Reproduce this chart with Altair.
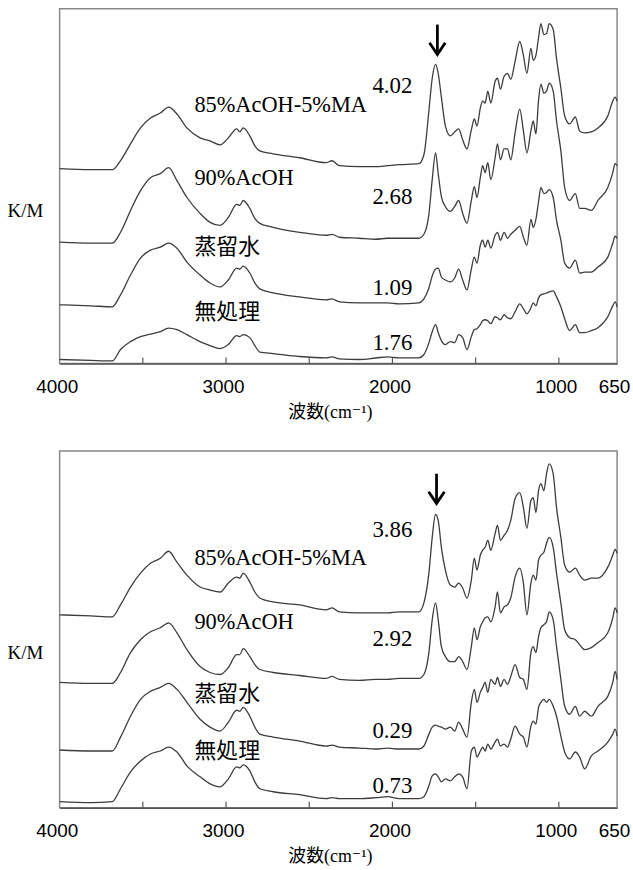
import altair as alt
import pandas as pd

# wavenumber grid (cm-1), shared by all spectra
WN = [4000, 3813, 3684, 3634, 3574, 3514, 3454, 3395, 3345, 3295, 3235, 3156, 3096, 3036,
      2986, 2936, 2917, 2897, 2857, 2827, 2797, 2717, 2558, 2399, 2363, 2319, 2200,
      2100, 2030,
      1960, 1841, 1811, 1781, 1761, 1741, 1725, 1706, 1682, 1652, 1626, 1602, 1578, 1552,
      1526, 1508, 1492, 1472, 1458, 1443, 1427, 1409, 1383, 1369, 1351, 1329, 1309, 1289,
      1263, 1235, 1213, 1192, 1168, 1154, 1138, 1122, 1108, 1090, 1074, 1058, 1034, 1014,
      988, 965, 935, 901, 875, 845, 805, 765, 706, 676, 662, 650]

SAMPLES = ["無処理", "蒸留水", "90%AcOH", "85%AcOH-5%MA"]
CJK = [True, True, False, False]

# ---- upper panel (offset K/M, arbitrary units) ----
TOP_S1 = [0.4, 0.3, 0.25, 1.4, 2.2, 2.7, 2.95, 3.2, 3.55, 3.4, 2.9, 2.2, 1.8, 1.5, 1.9, 2.8, 2.7, 2.9,
          2.6, 1.8, 1.15, 1.0, 0.7, 0.57, 0.67, 0.47, 0.4, 0.55, 0.67,
          0.57, 0.57, 0.9, 2.07, 3.2, 3.9, 3.1, 2.3, 1.9, 2.2, 2.1, 2.9, 2.6, 1.4, 2.7, 3.4, 3.5, 3.9,
          4.3, 4.4, 4.3, 4.0, 4.7, 4.6, 4.4, 4.9, 4.6, 4.5, 5.2, 6.0, 5.5, 5.0, 5.6, 6.1, 5.8, 6.6,
          6.9, 7.0, 7.1, 7.2, 7.3, 6.7, 5.7, 4.5, 3.3, 3.9, 3.1, 3.1, 3.3, 3.6, 4.7, 5.8, 6.2, 5.7]
TOP_S2 = [5.9, 5.8, 5.7, 6.9, 8.9, 10.6, 11.4, 11.7, 12.1, 11.6, 10.2, 8.9, 8.1, 7.7, 8.4, 9.6, 9.5,
          9.8, 9.1, 8.1, 7.5, 7.1, 6.7, 6.4, 6.5, 6.2, 6.1, 6.1, 6.1,
          6.0, 6.1, 6.5, 7.6, 8.8, 9.5, 9.6, 8.7, 8.4, 8.2, 8.6, 9.5, 8.4, 7.4, 9.5, 10.7, 10.1,
          11.9, 12.4, 11.7, 12.4, 11.6, 12.9, 13.2, 12.4, 13.2, 12.6, 13.0, 13.4, 13.8, 12.7,
          11.9, 14.5, 13.7, 14.5, 16.3, 17.7, 17.1, 17.2, 17.5, 16.7, 14.4, 12.4, 10.1, 9.6,
          10.4, 9.1, 9.2, 9.2, 9.7, 10.7, 12.1, 12.8, 12.6]
TOP_S3 = [12.2, 12.1, 12.1, 13.2, 15.4, 17.4, 18.7, 19.1, 19.7, 18.4, 16.7, 15.1, 14.2, 13.9, 14.7,
          16.0, 15.9, 16.4, 15.6, 14.6, 14.1, 13.7, 13.2, 12.9, 13.0, 12.7, 12.6, 12.5, 12.6,
          12.6, 12.6, 13.0, 15.0, 18.5, 21.2, 19.1, 16.8, 15.8, 15.3, 15.8, 16.4, 15.1, 14.1,
          16.4, 17.8, 16.7, 18.7, 19.9, 19.2, 20.2, 18.5, 20.7, 22.1, 20.5, 21.6, 21.6, 20.5,
          23.2, 25.6, 23.4, 21.2, 23.4, 24.4, 23.1, 26.5, 28.1, 27.2, 27.4, 28.2, 27.4, 24.4,
          21.4, 17.7, 16.4, 17.1, 15.6, 15.6, 15.4, 16.4, 17.7, 19.2, 20.1, 19.9]
TOP_S4 = [19.6, 19.5, 19.5, 20.4, 22.1, 23.7, 24.7, 25.2, 25.8, 25.1, 23.7, 22.7, 22.4, 22.0, 22.7,
          23.6, 23.3, 23.7, 22.9, 21.9, 21.4, 21.1, 20.7, 20.2, 20.4, 19.9, 19.8, 19.8, 19.9,
          20.0, 20.1, 21.0, 25.4, 28.7, 30.1, 29.2, 26.8, 23.9, 22.9, 23.3, 23.6, 22.5, 21.6,
          23.5, 24.6, 23.9, 25.7, 26.4, 26.2, 27.4, 26.2, 28.4, 28.7, 27.6, 28.9, 29.2, 28.6,
          30.4, 32.4, 31.0, 29.2, 31.7, 30.5, 31.0, 32.8, 34.2, 33.1, 33.2, 34.2, 33.6, 30.7,
          27.7, 24.9, 24.1, 24.8, 23.4, 23.2, 23.3, 23.7, 24.9, 26.4, 26.8, 26.4]
TOP_LABEL_Y = [5.2, 11.7, 18.7, 26.0]
TOP_NUMBERS = ["1.76", "1.09", "2.68", "4.02"]
TOP_NUMBER_Y = [2.1, 7.6, 16.7, 27.9]
TOP_ARROW = [1730, 34.1, 31.1]

# ---- lower panel ----
BOT_S1 = [0.6, 0.5, 0.6, 1.9, 3.6, 4.7, 5.4, 5.7, 6.1, 5.6, 4.2, 3.1, 2.4, 2.1, 2.9, 4.1, 4.0, 4.3,
          3.7, 2.6, 1.9, 1.6, 1.3, 0.9, 1.0, 0.9, 0.9, 1.0, 1.1,
          0.9, 0.9, 1.1, 2.2, 3.2, 3.4, 3.1, 2.6, 2.9, 2.7, 3.1, 3.4, 3.1, 1.9, 5.7, 6.1, 5.1, 5.7,
          6.1, 5.7, 6.4, 5.9, 6.6, 6.9, 6.2, 6.4, 6.1, 6.9, 8.2, 7.4, 7.1, 6.1, 8.2, 8.7, 8.4, 10.1,
          10.6, 10.9, 10.6, 10.9, 10.2, 9.2, 7.2, 5.6, 4.9, 5.6, 5.1, 3.9, 5.2, 5.7, 6.6, 7.4, 7.9, 7.2]
BOT_S2 = [5.8, 5.7, 5.7, 7.1, 9.2, 10.9, 11.7, 12.1, 12.5, 11.9, 10.6, 8.9, 8.1, 7.7, 8.6, 9.8, 9.7,
          10.1, 9.2, 8.1, 7.4, 7.1, 6.7, 6.2, 6.3, 6.1, 6.0, 5.9, 6.0,
          5.9, 5.9, 6.2, 7.4, 8.1, 8.3, 8.2, 8.1, 7.9, 8.1, 7.7, 8.6, 7.9, 7.1, 10.6, 11.9, 10.6,
          11.6, 12.1, 12.6, 11.6, 12.9, 12.4, 13.1, 12.2, 12.9, 12.4, 13.2, 14.4, 13.1, 12.9, 11.9,
          15.6, 16.2, 15.6, 17.2, 18.1, 18.4, 18.7, 19.7, 18.9, 16.2, 12.9, 10.2, 9.4, 10.2, 9.2,
          9.7, 9.2, 10.2, 11.2, 12.6, 13.7, 12.9]
BOT_S3 = [12.6, 12.5, 12.5, 13.6, 15.6, 16.9, 17.7, 18.1, 18.6, 17.6, 15.9, 14.2, 13.6, 13.4, 14.1,
          15.4, 15.4, 16.0, 15.2, 14.4, 13.9, 13.6, 13.3, 13.0, 13.2, 12.9, 12.8, 12.9, 12.9,
          13.0, 13.0, 13.4, 15.6, 18.9, 20.6, 18.9, 16.2, 15.2, 14.7, 14.7, 15.2, 14.7, 13.9, 16.2,
          18.1, 16.9, 18.2, 18.7, 19.1, 19.2, 18.7, 20.2, 21.7, 19.6, 20.2, 20.4, 21.1, 23.2, 24.1,
          22.6, 19.4, 22.6, 23.4, 22.9, 24.9, 25.4, 25.7, 26.6, 27.2, 26.2, 23.6, 20.6, 17.9, 17.1,
          16.9, 16.4, 15.9, 16.1, 16.6, 17.6, 19.1, 20.1, 19.6]
BOT_S4 = [19.4, 19.3, 19.2, 20.4, 22.2, 23.6, 24.6, 25.1, 25.8, 24.7, 23.4, 22.2, 21.9, 21.7, 22.6,
          23.2, 23.1, 23.6, 22.7, 21.7, 21.1, 20.7, 20.4, 19.9, 20.1, 19.7, 19.6, 19.6, 19.6,
          19.7, 19.7, 20.6, 23.6, 27.2, 29.5, 28.9, 26.2, 23.9, 22.4, 22.2, 22.6, 22.1, 21.1, 22.9,
          25.1, 23.9, 25.4, 25.9, 26.2, 26.9, 25.9, 27.6, 28.4, 26.9, 27.4, 27.9, 28.9, 31.1, 31.7,
          30.2, 28.1, 30.9, 31.2, 29.7, 31.9, 32.6, 31.9, 33.6, 34.6, 33.6, 30.2, 27.2, 24.4, 23.7,
          24.1, 23.4, 22.9, 23.1, 23.1, 24.2, 25.4, 26.0, 25.6]
BOT_LABEL_Y = [5.7, 11.4, 18.7, 25.1]
BOT_NUMBERS = ["0.73", "0.29", "2.92", "3.86"]
BOT_NUMBER_Y = [2.2, 7.7, 17.0, 27.9]
BOT_ARROW = [1735, 33.6, 30.6]

LABEL_X = 3190
NUMBER_X = 1880
AXIS_LABELS = [4000, 3000, 2000, 1000, 650]
TICKS = [3500, 3000, 2500, 2000, 1500, 1000]

W = 561


def panel(series, label_y, numbers, number_y, arrow, ymax, height):
    rows = []
    for name, vals in zip(SAMPLES, series):
        for w, v in zip(WN, vals):
            rows.append({"wn": w, "km": v, "sample": name})
    df = pd.DataFrame(rows)

    xs = alt.Scale(domain=[650, 4000], reverse=True, nice=False, zero=False)
    ys = alt.Scale(domain=[0, ymax], nice=False, zero=False)
    xa = alt.Axis(values=AXIS_LABELS, format="d", labelFont="Liberation Sans", labelFontSize=19,
                  labelColor="black", labelPadding=14, labelOffset=-3, labelFlush=False,
                  ticks=False, domainColor="#555555", domainWidth=1.5, grid=False,
                  title="波数(cm⁻¹)", titleFont="Liberation Serif, DejaVu Serif, Noto Sans CJK JP",
                  titleFontSize=18, titleFontWeight="normal", titleColor="black",
                  titleX=272, titleY=49, titleBaseline="middle")
    ya = alt.Axis(labels=False, ticks=False, domain=False, grid=False, title="K/M",
                  titleAngle=0, titleX=-35, titleY=203, titleAlign="center",
                  titleBaseline="middle", titleFont="Liberation Serif", titleFontSize=19,
                  titleFontWeight="normal", titleColor="black")

    def X(f="wn"):
        return alt.X(f"{f}:Q", scale=xs, axis=xa)

    def Y(f="km"):
        return alt.Y(f"{f}:Q", scale=ys, axis=ya)

    lines = alt.Chart(df).mark_line(color="#3c3c3c", strokeWidth=1.3, interpolate="monotone").encode(
        x=X(), y=Y(), detail="sample:N")

    lab = pd.DataFrame({"wn": [LABEL_X] * 4, "km": label_y, "text": SAMPLES, "cjk": CJK})
    lab_latin = alt.Chart(lab[~lab["cjk"]]).mark_text(
        align="left", baseline="middle", font="Liberation Serif", fontSize=22.5, color="black"
    ).encode(x=X(), y=Y(), text="text:N")
    lab_cjk = alt.Chart(lab[lab["cjk"]]).mark_text(
        align="left", baseline="middle", font="Noto Sans CJK JP", fontSize=22, color="black"
    ).encode(x=X(), y=Y(), text="text:N")

    num = pd.DataFrame({"wn": [NUMBER_X] * 4, "km": number_y, "text": numbers})
    nums = alt.Chart(num).mark_text(
        align="right", baseline="middle", font="Liberation Serif", fontSize=23, color="black"
    ).encode(x=X(), y=Y(), text="text:N")

    arr = pd.DataFrame({"wn": [arrow[0]], "top": [arrow[1]], "tip": [arrow[2]]})
    shaft = alt.Chart(arr).mark_rule(color="black", strokeWidth=2.8).encode(
        x=X(), y=Y("top"), y2="tip:Q")
    head = alt.Chart(arr).mark_point(
        shape="M-0.67,-1L0,0L0.67,-1", size=560, filled=False, color="black",
        strokeWidth=2.8, opacity=1
    ).encode(x=X(), y=Y("tip"))

    tk = pd.DataFrame({"wn": TICKS, "y0": [0] * len(TICKS), "y1": [0.6] * len(TICKS)})
    ticks = alt.Chart(tk).mark_rule(color="#555555", strokeWidth=1.2).encode(
        x=X(), y=Y("y0"), y2="y1:Q")

    return alt.layer(lines, lab_latin, lab_cjk, nums, shaft, head, ticks).properties(
        width=W, height=height)


top = panel([TOP_S1, TOP_S2, TOP_S3, TOP_S4], TOP_LABEL_Y, TOP_NUMBERS, TOP_NUMBER_Y,
            TOP_ARROW, 35.7, 357)
bottom = panel([BOT_S1, BOT_S2, BOT_S3, BOT_S4], BOT_LABEL_Y, BOT_NUMBERS, BOT_NUMBER_Y,
               BOT_ARROW, 35.9, 359)

chart = alt.vconcat(top, bottom, spacing=28).properties(
    padding={"left": 6, "top": 5, "right": 2, "bottom": 2},
    background="white",
).configure_view(stroke="#888888", strokeWidth=1.5)

chart.save("out.html", embed_options={"renderer": "svg", "actions": False})
